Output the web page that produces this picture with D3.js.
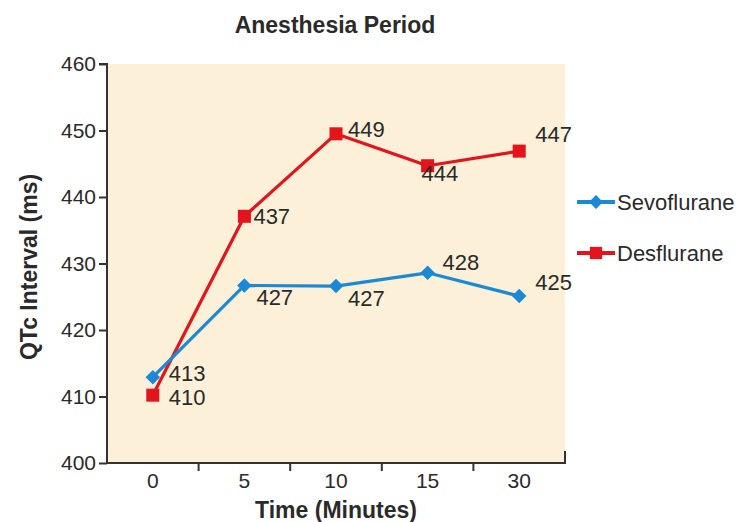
<!DOCTYPE html>
<html><head><meta charset="utf-8">
<script src="https://cdn.jsdelivr.net/npm/d3@7"></script>
<style>body{margin:0;background:#fff}text{font-family:"Liberation Sans",Arial,sans-serif}</style>
</head><body><svg id="c" width="745" height="522"></svg>
<script>
const categories = ["0","5","10","15","30"];
const sevoValues = [412.9, 426.7, 426.6, 428.6, 425.1];
const sevoLabels = ["413","427","427","428","425"];
const desValues = [410.2, 437.1, 449.5, 444.7, 446.9];
const desLabels = ["410","437","449","444","447"];
const yTicks = [400,410,420,430,440,450,460];
// label offsets [dx, baseline dy] relative to the point
const sevoLabelOff = [[16,4],[12,20],[12,20],[15,-3],[16,-6]];
const desLabelOff = [[16,10],[9,8],[12,3],[-6,15],[16,-9]];

const svg = d3.select("#c");
const L=107, R=565, T=64, B=463;
const x = d3.scaleBand().domain(categories).range([L,R]);
const y = d3.scaleLinear().domain([400,460]).range([B,T]);
const blue="#1b8ad6", red="#e3141c", ink="#2a2a2a";
const FS=21, LS=22, TS=23;

svg.append("rect").attr("x",L).attr("y",T).attr("width",R-L).attr("height",B-T).attr("fill","#fcf0d8");

const yAxis = svg.append("g").attr("transform",`translate(${L},0)`)
  .call(d3.axisLeft(y).tickValues(yTicks).tickSize(8).tickPadding(3));
const xAxis = svg.append("g").attr("transform",`translate(0,${B})`)
  .call(d3.axisBottom(x).tickSize(0).tickPadding(10));
[yAxis,xAxis].forEach(g=>{
  g.attr("font-size",FS).attr("font-family","Liberation Sans, Arial, sans-serif");
  g.select(".domain").attr("stroke","#333").attr("stroke-width",2);
  g.selectAll(".tick line").attr("stroke","#333").attr("stroke-width",2);
  g.selectAll("text").attr("fill",ink);
});
yAxis.select(".domain").attr("d",`M-8,${T}H0V${B}`);
xAxis.select(".domain").attr("d",`M${L},0H${R}V-12`);
// category boundary ticks
svg.append("g").selectAll("line").data(categories.slice(1)).join("line")
  .attr("x1",d=>x(d)).attr("x2",d=>x(d)).attr("y1",B).attr("y2",B+8)
  .attr("stroke","#333").attr("stroke-width",2);

const cx = d=>x(d)+x.bandwidth()/2;
const line = d3.line().x((d,i)=>cx(categories[i])).y(d=>y(d));
const sq = d3.symbol().type(d3.symbolSquare);

function series(vals, labels, offs, color, diamond){
  svg.append("path").datum(vals).attr("d",line).attr("fill","none").attr("stroke",color).attr("stroke-width",3.2).attr("stroke-linejoin","round");
  svg.append("g").selectAll("path").data(vals).join("path")
    .attr("transform",(d,i)=>`translate(${cx(categories[i])},${y(d)})` + (diamond?" rotate(45)":""))
    .attr("d",sq.size(diamond?105:170)()).attr("fill",color);
  svg.append("g").selectAll("text").data(vals).join("text")
    .attr("x",(d,i)=>cx(categories[i])+offs[i][0]).attr("y",(d,i)=>y(d)+offs[i][1])
    .attr("font-size",LS).attr("fill",ink).text((d,i)=>labels[i]);
}
series(desValues, desLabels, desLabelOff, red, false);
series(sevoValues, sevoLabels, sevoLabelOff, blue, true);

// legend
const leg = [["Sevoflurane",blue,true,202],["Desflurane",red,false,253]];
leg.forEach(([name,color,diamond,ly])=>{
  svg.append("line").attr("x1",577).attr("x2",615).attr("y1",ly).attr("y2",ly).attr("stroke",color).attr("stroke-width",4);
  svg.append("path").attr("transform",`translate(596,${ly})`+(diamond?" rotate(45)":"")).attr("d",sq.size(diamond?95:150)()).attr("fill",color);
  svg.append("text").attr("x",617).attr("y",ly+8).attr("font-size",LS).attr("fill",ink).text(name);
});

svg.append("text").attr("x",335).attr("y",33).attr("text-anchor","middle").attr("font-size",TS).attr("font-weight","bold").attr("fill",ink).text("Anesthesia Period");
svg.append("text").attr("x",336).attr("y",518).attr("text-anchor","middle").attr("font-size",TS).attr("font-weight","bold").attr("fill",ink).text("Time (Minutes)");
svg.append("text").attr("transform","translate(37,267) rotate(-90)").attr("text-anchor","middle").attr("font-size",TS).attr("font-weight","bold").attr("fill",ink).text("QTc Interval (ms)");
</script></body></html>
